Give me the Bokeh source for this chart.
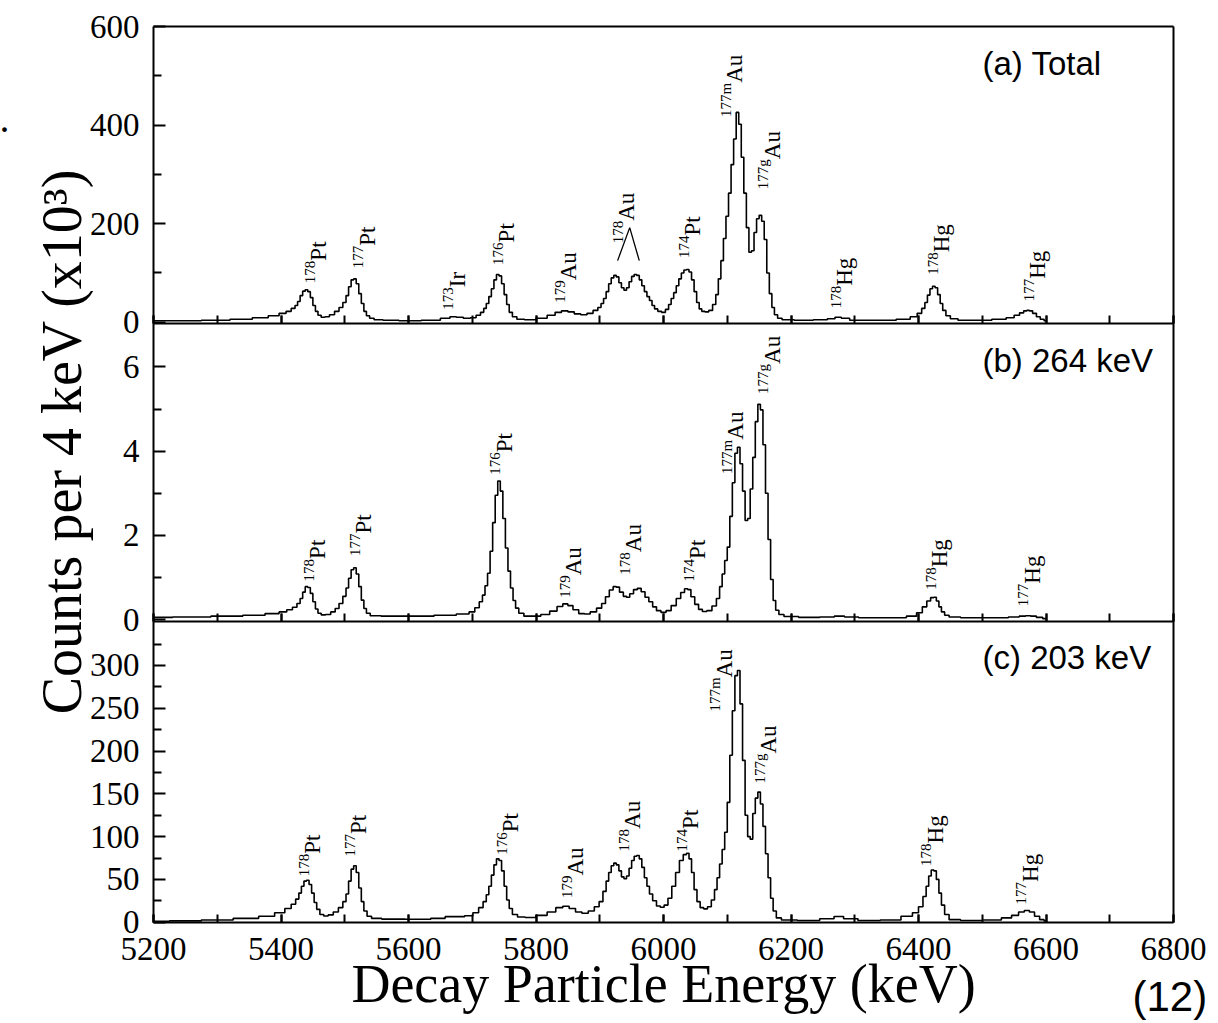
import math
from bokeh.plotting import figure
from bokeh.models import Range1d, LinearAxis, FixedTicker, SingleIntervalTicker, Label
from bokeh.core.properties import value
from bokeh.embed import file_html
from bokeh.resources import INLINE

# ---------------- data ----------------
# (a) Total  (counts per 4 keV, x10^3)
energy_a = [5200, 5250, 5300, 5340, 5370, 5390, 5404, 5412, 5420, 5424, 5428, 5432, 5436, 5440, 5444,
            5448, 5452, 5456, 5460, 5466, 5472, 5480, 5488, 5494, 5500, 5504, 5508, 5512, 5516, 5520,
            5524, 5528, 5532, 5536, 5542, 5550, 5570, 5600, 5640, 5660, 5670, 5680, 5692, 5702, 5710,
            5716, 5720, 5724, 5728, 5732, 5736, 5740, 5744, 5748, 5752, 5756, 5760, 5766, 5774, 5790,
            5810, 5825, 5835, 5845, 5855, 5865, 5875, 5885, 5894, 5900, 5904, 5908, 5912, 5916, 5920,
            5924, 5928, 5932, 5936, 5940, 5944, 5948, 5952, 5956, 5960, 5964, 5968, 5972, 5976, 5980,
            5984, 5988, 5994, 6000, 6006, 6010, 6014, 6018, 6022, 6026, 6030, 6034, 6038, 6042, 6046,
            6050, 6054, 6058, 6062, 6068, 6074, 6080, 6084, 6088, 6092, 6096, 6100, 6104, 6108, 6112,
            6116, 6120, 6124, 6128, 6132, 6136, 6140, 6144, 6148, 6152, 6156, 6160, 6164, 6168, 6172,
            6176, 6182, 6190, 6220, 6250, 6264, 6274, 6284, 6300, 6350, 6380, 6394, 6402, 6408, 6412,
            6416, 6420, 6424, 6428, 6432, 6436, 6440, 6446, 6454, 6470, 6500, 6530, 6545, 6555, 6562,
            6568, 6572, 6576, 6582, 6588, 6594, 6600]
counts_a = [3, 3, 4, 6, 9, 13, 18, 22, 28, 34, 42, 54, 63, 66, 62,
            50, 34, 22, 14, 10, 11, 15, 22, 30, 40, 54, 72, 86, 88, 78,
            58, 38, 22, 13, 8, 5, 4, 3, 4, 8, 11, 10, 8, 9, 14,
            20, 28, 38, 52, 68, 86, 97, 94, 78, 56, 36, 20, 11, 6, 5,
            8, 14, 20, 23, 21, 17, 15, 18, 24, 30, 38, 48, 62, 78, 90,
            95, 92, 80, 70, 65, 70, 82, 93, 97, 95, 86, 74, 62, 52, 44,
            34, 27, 22, 20, 26, 36, 48, 60, 74, 88, 100, 106, 107, 102, 86,
            62, 40, 27, 22, 21, 24, 36, 56, 88, 125, 170, 215, 262, 320, 372,
            426, 402, 335, 262, 192, 142, 145, 182, 210, 217, 205, 168, 100, 58, 30,
            15, 8, 5, 4, 5, 7, 10, 8, 4, 4, 6, 11, 18, 28, 40,
            55, 68, 73, 70, 56, 38, 24, 13, 7, 4, 4, 6, 9, 14, 19,
            23, 24, 23, 18, 11, 6, 3]

# (b) 264 keV gate
energy_b = [5200, 5260, 5320, 5360, 5390, 5404, 5414, 5422, 5428, 5432, 5436, 5440, 5444, 5448, 5452,
            5456, 5460, 5466, 5474, 5482, 5488, 5494, 5500, 5504, 5508, 5512, 5516, 5520, 5524, 5528,
            5532, 5536, 5544, 5570, 5620, 5660, 5690, 5700, 5708, 5714, 5718, 5722, 5726, 5730, 5734,
            5738, 5742, 5746, 5750, 5754, 5758, 5762, 5766, 5770, 5776, 5786, 5800, 5815, 5828, 5838,
            5846, 5854, 5862, 5872, 5880, 5890, 5900, 5906, 5912, 5918, 5924, 5928, 5934, 5940, 5944,
            5950, 5956, 5962, 5968, 5974, 5980, 5986, 5992, 6000, 6008, 6016, 6024, 6030, 6036, 6040,
            6046, 6052, 6058, 6064, 6072, 6080, 6086, 6090, 6094, 6098, 6102, 6106, 6110, 6114, 6118,
            6122, 6126, 6130, 6134, 6138, 6142, 6146, 6150, 6154, 6158, 6162, 6166, 6170, 6174, 6178,
            6184, 6194, 6230, 6260, 6276, 6292, 6320, 6370, 6392, 6402, 6410, 6416, 6422, 6426, 6430,
            6434, 6438, 6444, 6452, 6480, 6530, 6552, 6564, 6572, 6580, 6590, 6600]
counts_b = [0.05, 0.06, 0.08, 0.10, 0.14, 0.18, 0.23, 0.29, 0.38, 0.50, 0.65, 0.78, 0.76, 0.62, 0.42,
            0.25, 0.15, 0.11, 0.12, 0.18, 0.26, 0.38, 0.55, 0.75, 0.98, 1.18, 1.23, 1.08, 0.78, 0.46,
            0.26, 0.15, 0.09, 0.08, 0.08, 0.10, 0.13, 0.18, 0.28, 0.42, 0.58, 0.80, 1.10, 1.62, 2.30,
            2.95, 3.29, 3.05, 2.40, 1.70, 1.15, 0.75, 0.45, 0.27, 0.15, 0.08, 0.08, 0.12, 0.20, 0.31,
            0.37, 0.33, 0.23, 0.14, 0.13, 0.18, 0.27, 0.38, 0.54, 0.70, 0.78, 0.77, 0.65, 0.55, 0.53,
            0.61, 0.71, 0.74, 0.66, 0.53, 0.42, 0.30, 0.21, 0.17, 0.21, 0.33, 0.50, 0.64, 0.73, 0.71,
            0.54, 0.36, 0.24, 0.19, 0.21, 0.32, 0.50, 0.78, 1.08, 1.40, 1.72, 2.45, 3.25, 3.95, 4.09,
            3.70, 3.05, 2.35, 2.40, 3.10, 3.85, 4.70, 5.11, 4.98, 4.15, 3.00, 1.90, 0.95, 0.45, 0.22,
            0.12, 0.07, 0.05, 0.06, 0.08, 0.06, 0.04, 0.04, 0.08, 0.16, 0.30, 0.44, 0.52, 0.53, 0.44,
            0.30, 0.18, 0.10, 0.06, 0.04, 0.04, 0.06, 0.08, 0.09, 0.08, 0.05, 0.02]

# (c) 203 keV gate
energy_c = [5200, 5250, 5300, 5350, 5380, 5400, 5412, 5420, 5426, 5430, 5434, 5438, 5442, 5446, 5450,
            5454, 5458, 5464, 5470, 5478, 5486, 5494, 5500, 5504, 5508, 5512, 5516, 5520, 5524, 5528,
            5532, 5538, 5546, 5570, 5620, 5650, 5665, 5680, 5696, 5706, 5714, 5720, 5724, 5728, 5732,
            5736, 5740, 5744, 5748, 5752, 5756, 5760, 5766, 5776, 5790, 5810, 5825, 5837, 5847, 5857,
            5867, 5877, 5887, 5896, 5902, 5908, 5912, 5916, 5920, 5924, 5928, 5932, 5936, 5940, 5944,
            5948, 5952, 5956, 5960, 5964, 5968, 5972, 5976, 5980, 5986, 5992, 5998, 6004, 6010, 6016,
            6022, 6028, 6034, 6038, 6042, 6046, 6050, 6055, 6060, 6066, 6072, 6078, 6082, 6086, 6090,
            6094, 6098, 6102, 6106, 6110, 6114, 6118, 6122, 6126, 6130, 6134, 6138, 6142, 6146, 6150,
            6154, 6158, 6162, 6166, 6170, 6174, 6180, 6190, 6230, 6260, 6275, 6290, 6320, 6360, 6385,
            6396, 6404, 6410, 6414, 6418, 6422, 6426, 6430, 6434, 6438, 6444, 6452, 6480, 6520, 6540,
            6552, 6562, 6570, 6578, 6586, 6594, 6600]
counts_c = [1, 1.5, 2.6, 4.5, 7, 11, 16, 21, 27, 34, 42, 48, 49, 44, 34,
            23, 15, 9, 7.3, 8.5, 12, 17, 24, 33, 48, 62, 66, 58, 40, 24,
            13, 7, 4.5, 3.6, 3.5, 4.5, 6.5, 6.5, 7.5, 11, 17, 24, 32, 42, 55,
            67, 74, 72, 60, 42, 26, 16, 9, 6, 5.5, 8, 12, 17, 18.7, 16,
            12, 10.5, 13, 18, 24, 36, 48, 58, 66, 69, 67, 60, 53, 50.7, 54,
            63, 72, 77, 78, 74, 64, 52, 42, 33, 25, 19, 17.5, 20, 28, 42,
            58, 72, 79, 80.6, 74, 58, 38, 24, 17, 15.6, 18, 26, 38, 52, 68,
            85, 105, 140, 195, 247, 288, 294, 255, 189, 125, 100, 97, 127, 145, 152,
            138, 112, 80, 52, 28, 13, 5, 2.5, 2, 4, 6.6, 4, 2, 2.5, 7,
            11, 18, 30, 42, 54, 61, 60, 50, 34, 20, 9, 3, 2, 2.5, 5,
            8, 12, 13.7, 12, 7, 3, 1.5]

# peak labels: mass number (superscript), element, anchor energy (keV), anchor height (panel units)
mass_a = ["178", "177", "173", "176", "179", "178", "174", "177m", "177g", "178", "178", "177"]
elem_a = ["Pt", "Pt", "Ir", "Pt", "Au", "Au", "Pt", "Au", "Au", "Hg", "Hg", "Hg"]
lab_kev_a = [5469, 5545, 5686, 5764, 5861, 5952, 6055, 6121, 6180, 6294, 6446, 6597]
lab_cnt_a = [125, 155, 71, 162, 85, 206, 176, 486, 331, 74, 142, 88]

mass_b = ["178", "177", "176", "179", "178", "174", "177m", "177g", "178", "177"]
elem_b = ["Pt", "Pt", "Pt", "Au", "Au", "Pt", "Au", "Au", "Hg", "Hg"]
lab_kev_b = [5467, 5539, 5760, 5869, 5963, 6063, 6123, 6180, 6443, 6588]
lab_cnt_b = [1.44, 2.04, 3.97, 1.05, 1.6, 1.44, 4.27, 6.07, 1.24, 0.85]

mass_c = ["178", "177", "176", "179", "178", "174", "177m", "177g", "178", "177"]
elem_c = ["Pt", "Pt", "Pt", "Au", "Au", "Pt", "Au", "Au", "Hg", "Hg"]
lab_kev_c = [5459, 5532, 5770, 5872, 5961, 6052, 6105, 6175, 6436, 6585]
lab_cnt_c = [80, 103, 105, 54.5, 109, 109, 286, 197, 92, 47]

# bracket joining the 178Au label to its two peaks in (a)
bracket_kev = [5928, 5947, 5962]
bracket_cnt = [125, 192, 125]

titles = ["(a) Total", "(b) 264 keV", "(c) 203 keV"]
x_ticks_major = [5200, 5400, 5600, 5800, 6000, 6200, 6400, 6600, 6800]
y_ticks_a = [0, 200, 400, 600]
y_minor_a = [100, 300, 500]
y_ticks_b = [0, 2, 4, 6]
y_minor_b = [1, 3, 5]
y_ticks_c = [0, 50, 100, 150, 200, 250, 300]
y_minor_c = [25, 75, 125, 175, 225, 275, 325]

# ---------------- layout (pixels) ----------------
W, H = 1218, 1023
FL, FR, FT, FB = 153, 1173, 26, 922      # the drawn box
X0, X1 = 5200, 6800
PPK = (FR - FL) / (X1 - X0)
# zero-row pixel and pixels per unit for each panel
PANEL = {"a": (321.7, 0.4925), "b": (619.0, 42.1), "c": (921.7, 0.856)}
TOP = {"a": FT, "b": 322.5, "c": 620.5}
BOT = {"a": 322.5, "b": 620.5, "c": FB}
RNAME = {"a": "a", "b": "b", "c": "default"}
SERIF = "Liberation Serif"
SANS = "Liberation Sans"
BASE_FIX = 0.38   # em by which rendered text sits below the requested baseline


def units(name, px):
    z, ppu = PANEL[name]
    return (z - px) / ppu


def kev(px):
    return X0 + (px - FL) / PPK


def canvas_range(name):
    # the plotting frame covers the whole canvas, so nothing outside the box is clipped
    return Range1d(units(name, H), units(name, 0))


p = figure(width=W, height=H, x_range=Range1d(kev(0), kev(W)), y_range=canvas_range("c"),
           x_axis_type=None, y_axis_type=None, output_backend="svg", toolbar_location=None,
           min_border=0)
p.extra_y_ranges = {"a": canvas_range("a"), "b": canvas_range("b")}
p.outline_line_color = None
p.background_fill_color = "white"
p.border_fill_color = "white"


def style(ax, t_in, m_in):
    ax.axis_line_color = "black"
    ax.axis_line_width = 2
    ax.major_tick_line_color = "black"
    ax.major_tick_line_width = 2
    ax.minor_tick_line_color = "black"
    ax.minor_tick_line_width = 2
    ax.major_tick_in = t_in
    ax.major_tick_out = 0
    ax.minor_tick_in = m_in
    ax.minor_tick_out = 0
    ax.major_label_text_font = SERIF
    ax.major_label_text_font_size = "33px"
    ax.major_label_text_color = "black"


# horizontal axes (bottom of each panel)
for name in ("a", "b", "c"):
    ax = LinearAxis(y_range_name=RNAME[name], fixed_location=units(name, BOT[name]),
                    ticker=SingleIntervalTicker(interval=200, num_minor_ticks=2),
                    bounds=(X0, X1))
    style(ax, 8, 8)
    if name != "c":
        ax.major_label_overrides = {t: "" for t in x_ticks_major}
    else:
        ax.major_label_standoff = 15
    p.add_layout(ax, "below")

# top and right edges of the box
top_ax = LinearAxis(y_range_name="a", fixed_location=units("a", FT), ticker=FixedTicker(ticks=[]),
                    bounds=(X0, X1))
style(top_ax, 0, 0)
p.add_layout(top_ax, "above")
right_ax = LinearAxis(fixed_location=X1, ticker=FixedTicker(ticks=[]),
                      bounds=(units("c", FB), units("c", FT)))
style(right_ax, 0, 0)
p.add_layout(right_ax, "right")

# vertical axes
yt = {"a": (y_ticks_a, y_minor_a), "b": (y_ticks_b, y_minor_b), "c": (y_ticks_c, y_minor_c)}
for name in ("a", "b", "c"):
    ax = LinearAxis(y_range_name=RNAME[name], fixed_location=X0,
                    ticker=FixedTicker(ticks=yt[name][0], minor_ticks=yt[name][1]),
                    bounds=(units(name, BOT[name]), units(name, TOP[name])))
    style(ax, 12, 8)
    ax.major_label_standoff = 14
    p.add_layout(ax, "left")

# spectra
for name, e, c in (("a", energy_a, counts_a), ("b", energy_b, counts_b), ("c", energy_c, counts_c)):
    p.step(e, c, mode="center", line_color="black", line_width=1.6, y_range_name=RNAME[name])

p.line(bracket_kev, bracket_cnt, line_color="black", line_width=1.3, y_range_name="a")

# peak labels (rotated; the mass number is raised, i.e. shifted left of the symbol)
RAISE = 11
SUP_PX, EL_PX = 15, 23
for name, ms, es, ks, cs in (("a", mass_a, elem_a, lab_kev_a, lab_cnt_a),
                             ("b", mass_b, elem_b, lab_kev_b, lab_cnt_b),
                             ("c", mass_c, elem_c, lab_kev_c, lab_cnt_c)):
    p.text(x=[k - (RAISE + 0.27 * SUP_PX) / PPK for k in ks], y=cs, text=ms, angle=math.pi / 2,
           text_align="right", text_baseline="alphabetic", text_font=value(SERIF),
           text_font_size=f"{SUP_PX}px", text_color="black", y_range_name=RNAME[name])
    p.text(x=[k - 0.27 * EL_PX / PPK for k in ks], y=cs, text=es, angle=math.pi / 2,
           text_align="left", text_baseline="alphabetic", text_font=value(SERIF),
           text_font_size=f"{EL_PX}px", text_color="black", y_range_name=RNAME[name])

# panel titles
TITLE_PX = 33
for name, t, base in (("a", titles[0], 76), ("b", titles[1], 373), ("c", titles[2], 670)):
    p.add_layout(Label(x=kev(982), y=units(name, base - BASE_FIX * TITLE_PX), y_range_name=RNAME[name],
                       text=t, text_font=SANS, text_font_size=f"{TITLE_PX}px", text_color="black",
                       text_align="left", text_baseline="alphabetic"))

# axis titles and extra text
p.add_layout(Label(x=kev(663), y=units("c", 1004 - BASE_FIX * 54), text="Decay Particle Energy (keV)",
                   text_font=SERIF, text_font_size="54px", text_color="black",
                   text_align="center", text_baseline="alphabetic"))
p.add_layout(Label(x=kev(83 - BASE_FIX * 56), y=units("c", 441), text="Counts per 4 keV (x10³)",
                   angle=math.pi / 2, text_font=SERIF, text_font_size="56px", text_color="black",
                   text_align="center", text_baseline="alphabetic"))
p.add_layout(Label(x=kev(1132), y=units("c", 1012 - BASE_FIX * 42), text="(12)",
                   text_font=SANS, text_font_size="42px", text_color="black",
                   text_align="left", text_baseline="alphabetic"))
p.add_layout(Label(x=kev(-1), y=units("a", 134 - BASE_FIX * 40), y_range_name="a", text=".",
                   text_font=SERIF, text_font_size="40px", text_color="black",
                   text_align="left", text_baseline="alphabetic"))

open("out.html", "w").write(file_html(p, INLINE))
